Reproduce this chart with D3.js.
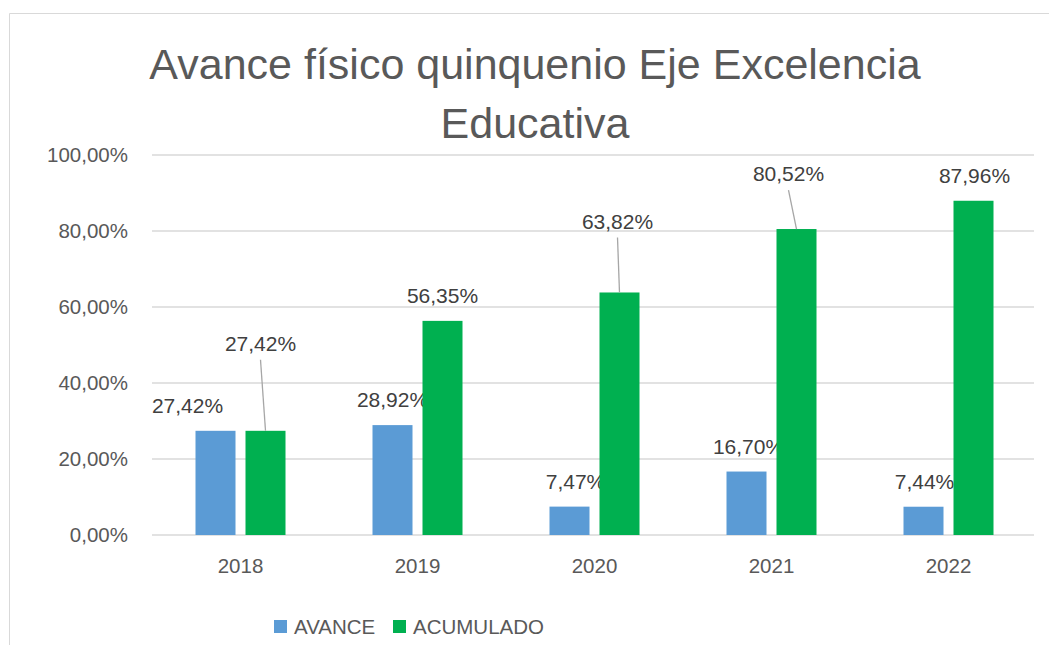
<!DOCTYPE html>
<html><head><meta charset="utf-8">
<script src="https://cdn.jsdelivr.net/npm/d3@7"></script>
<style>html,body{margin:0;padding:0;background:#fff}svg{display:block}</style>
</head><body><svg id="c" width="1049" height="645"></svg>
<script>
const categories = ["2018","2019","2020","2021","2022"];
const avance = [27.42, 28.92, 7.47, 16.70, 7.44];
const acumulado = [27.42, 56.35, 63.82, 80.52, 87.96];
const yTicks = [0, 20, 40, 60, 80, 100];
const seriesNames = ["AVANCE", "ACUMULADO"];
const titleLines = ["Avance físico quinquenio Eje Excelencia", "Educativa"];

// label placement (layout, px): offsets from default position above bar
const avanceLabelDx = [-28, 0, 6, 2, 1];
const acumLabelDx = [-5, 0, -2, -8, 1];
const acumLabelDy = [-62, 0, -46, -30, 0];

const colors = ["#5B9BD5", "#00B050"];
const font = "'Liberation Sans', Arial, sans-serif";
const svg = d3.select("#c");

// chart border
svg.append("path").attr("d","M9.5,645 V13.5 H1049").attr("fill","none").attr("stroke","#d9d9d9").attr("stroke-width",1);

const x0 = d3.scaleBand().domain(categories).range([152, 1037]).padding(0);
const y = d3.scaleLinear().domain([0, 100]).range([535, 155]);
const bw = 40, off = 25;

// gridlines
svg.append("g").selectAll("line").data(yTicks).join("line")
  .attr("x1", 152).attr("x2", 1034).attr("y1", d => y(d)).attr("y2", d => y(d))
  .attr("stroke", "#d9d9d9").attr("stroke-width", 1.5);

// y labels
svg.append("g").selectAll("text").data(yTicks).join("text")
  .attr("x", 128).attr("y", d => y(d)).attr("dy", "0.35em").attr("text-anchor", "end")
  .attr("font-family", font).attr("font-size", 20.5).attr("fill", "#595959")
  .text(d => d3.format(".2f")(d).replace(".", ",") + "%");

// x labels
svg.append("g").selectAll("text").data(categories).join("text")
  .attr("x", d => x0(d) + x0.bandwidth()/2).attr("y", 566).attr("dy", "0.35em").attr("text-anchor", "middle")
  .attr("font-family", font).attr("font-size", 20.5).attr("fill", "#595959").text(d => d);

const fmt = v => d3.format(".2f")(v).replace(".", ",") + "%";
const series = [avance, acumulado];
series.forEach((vals, s) => {
  const cx = i => x0(categories[i]) + x0.bandwidth()/2 + (s === 0 ? -off : off);
  svg.append("g").selectAll("rect").data(vals).join("rect")
    .attr("x", (d,i) => cx(i) - bw/2).attr("width", bw)
    .attr("y", d => y(d)).attr("height", d => y(0) - y(d))
    .attr("fill", colors[s]);
  const dxs = s === 0 ? avanceLabelDx : acumLabelDx;
  const dys = s === 0 ? vals.map(() => 0) : acumLabelDy;
  // leader lines
  svg.append("g").selectAll("line").data(vals.map((v,i)=>({v,i})).filter(o => dys[o.i] !== 0)).join("line")
    .attr("x1", o => cx(o.i) + dxs[o.i]).attr("y1", o => y(o.v) - 24 + dys[o.i] + 15)
    .attr("x2", o => cx(o.i)).attr("y2", o => y(o.v))
    .attr("stroke", "#a6a6a6").attr("stroke-width", 1.3);
  svg.append("g").selectAll("text").data(vals).join("text")
    .attr("x", (d,i) => cx(i) + dxs[i]).attr("y", (d,i) => y(d) - 25 + dys[i]).attr("dy", "0.35em")
    .attr("text-anchor", "middle").attr("font-family", font).attr("font-size", 21).attr("fill", "#404040")
    .text(d => fmt(d));
});

// title
svg.append("g").selectAll("text").data(titleLines).join("text")
  .attr("x", 535).attr("y", (d,i) => 79 + i*59).attr("text-anchor", "middle")
  .attr("font-family", font).attr("font-size", 43).attr("fill", "#595959").text(d => d);

// legend
const lg = svg.append("g").attr("font-family", font).attr("font-size", 20.5).attr("fill", "#595959");
const legX = [274, 393];
seriesNames.forEach((n, i) => {
  lg.append("rect").attr("x", legX[i]).attr("y", 620).attr("width", 13).attr("height", 13).attr("fill", colors[i]);
  lg.append("text").attr("x", legX[i] + 20).attr("y", 627).attr("dy", "0.35em").text(n);
});
</script></body></html>
